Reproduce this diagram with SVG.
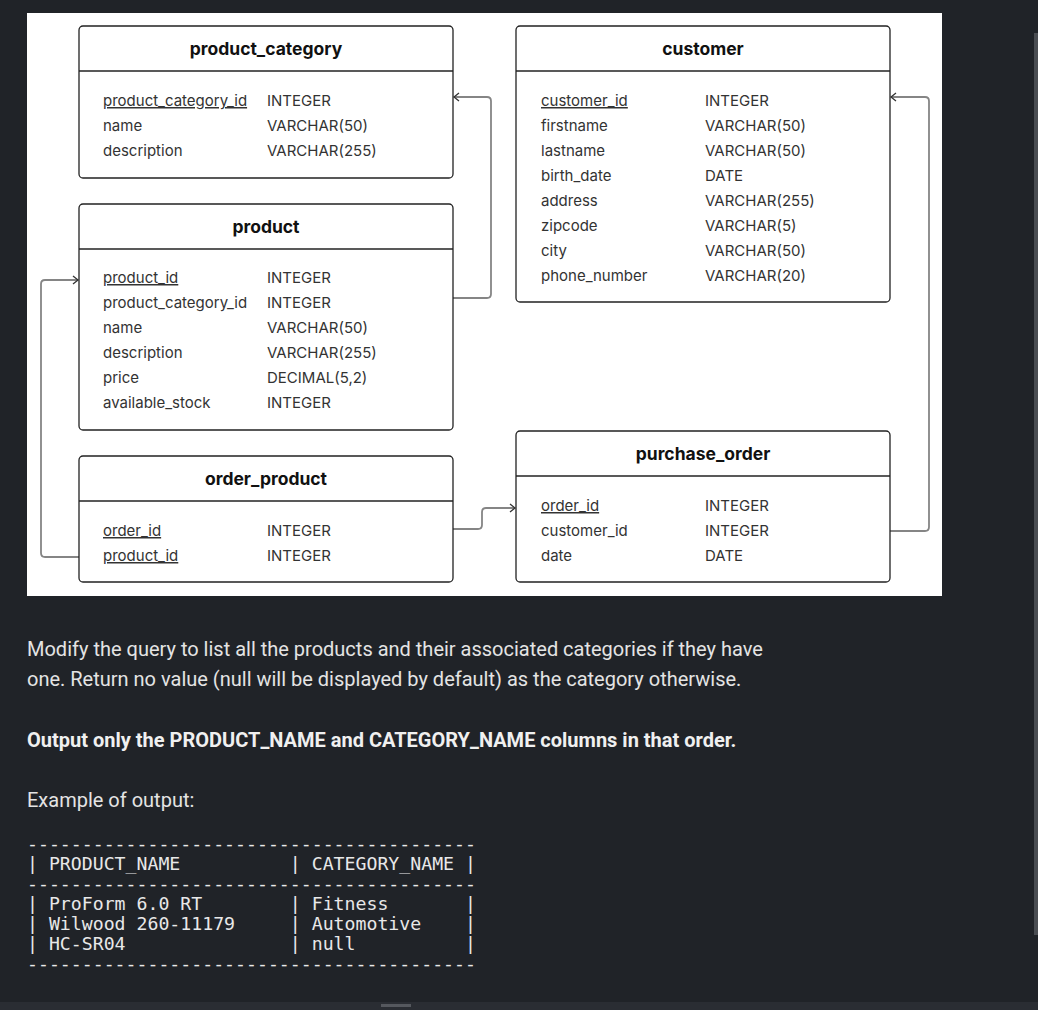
<svg xmlns="http://www.w3.org/2000/svg" width="1038" height="1010" viewBox="0 0 1038 1010">
<style>
.tbl{fill:#ffffff;stroke:#222222;stroke-width:1.3}
.sep{stroke:#222222;stroke-width:1.3}
.title{font-family:Inter,"Liberation Sans",sans-serif;font-weight:700;font-size:17.5px;fill:#111111;text-anchor:middle}
.row{font-family:Inter,"Liberation Sans",sans-serif;font-size:15px;fill:#333333}
.pk{text-decoration:underline}
.conn{fill:none;stroke:#858585;stroke-width:1.8}
.body{font-family:Roboto,"Liberation Sans",sans-serif;font-size:20px;fill:#e4e4e4}
.bold{font-weight:700;fill:#f0f0f0}
.mono{font-family:"DejaVu Sans Mono","Liberation Mono",monospace;font-size:18.2px;fill:#e8e8e8;white-space:pre}
</style>
<defs>
<marker id="arr" markerUnits="userSpaceOnUse" markerWidth="12" markerHeight="12" viewBox="-8 -6 10 12" refX="0" refY="0" orient="auto">
<path d="M-5,-4 L0,0 L-5,4" fill="none" stroke="#333333" stroke-width="1.3"/>
</marker>
</defs>
<rect x="0" y="0" width="1038" height="1010" fill="#202328"/>
<rect x="27" y="13" width="915" height="583" fill="#ffffff"/>
<rect x="1034" y="33" width="4" height="902" fill="#4a4d52"/>
<rect x="0" y="1002" width="1038" height="8" fill="#2a2d33"/>
<rect x="381" y="1004" width="30" height="3" fill="#55585e"/>

<g id="connectors">
<path class="conn" d="M453,298 H487 Q491,298 491,294 V101 Q491,97 487,97 H454" marker-end="url(#arr)"/>
<path class="conn" d="M890,531 H925 Q929,531 929,527 V101 Q929,97 925,97 H891" marker-end="url(#arr)"/>
<path class="conn" d="M79,557 H45 Q41,557 41,553 V284 Q41,280 45,280 H78" marker-end="url(#arr)"/>
<path class="conn" d="M453,529 H478 Q482,529 482,525 V512 Q482,508 486,508 H515" marker-end="url(#arr)"/>
</g>

<g id="product_category">
<rect class="tbl" x="79" y="26" width="374" height="152" rx="4"/>
<line class="sep" x1="79" y1="71" x2="453" y2="71"/>
<text class="title" x="266" y="55">product_category</text>
<text class="row pk" x="103" y="106">product_category_id</text><text class="row" x="267" y="106">INTEGER</text>
<text class="row" x="103" y="131">name</text><text class="row" x="267" y="131">VARCHAR(50)</text>
<text class="row" x="103" y="156">description</text><text class="row" x="267" y="156">VARCHAR(255)</text>
</g>

<g id="customer">
<rect class="tbl" x="516" y="26" width="374" height="276" rx="4"/>
<line class="sep" x1="516" y1="71" x2="890" y2="71"/>
<text class="title" x="703" y="55">customer</text>
<text class="row pk" x="541" y="106">customer_id</text><text class="row" x="705" y="106">INTEGER</text>
<text class="row" x="541" y="131">firstname</text><text class="row" x="705" y="131">VARCHAR(50)</text>
<text class="row" x="541" y="156">lastname</text><text class="row" x="705" y="156">VARCHAR(50)</text>
<text class="row" x="541" y="181">birth_date</text><text class="row" x="705" y="181">DATE</text>
<text class="row" x="541" y="206">address</text><text class="row" x="705" y="206">VARCHAR(255)</text>
<text class="row" x="541" y="231">zipcode</text><text class="row" x="705" y="231">VARCHAR(5)</text>
<text class="row" x="541" y="256">city</text><text class="row" x="705" y="256">VARCHAR(50)</text>
<text class="row" x="541" y="281">phone_number</text><text class="row" x="705" y="281">VARCHAR(20)</text>
</g>

<g id="product">
<rect class="tbl" x="79" y="204" width="374" height="226" rx="4"/>
<line class="sep" x1="79" y1="249" x2="453" y2="249"/>
<text class="title" x="266" y="233">product</text>
<text class="row pk" x="103" y="283">product_id</text><text class="row" x="267" y="283">INTEGER</text>
<text class="row" x="103" y="308">product_category_id</text><text class="row" x="267" y="308">INTEGER</text>
<text class="row" x="103" y="333">name</text><text class="row" x="267" y="333">VARCHAR(50)</text>
<text class="row" x="103" y="358">description</text><text class="row" x="267" y="358">VARCHAR(255)</text>
<text class="row" x="103" y="383">price</text><text class="row" x="267" y="383">DECIMAL(5,2)</text>
<text class="row" x="103" y="408">available_stock</text><text class="row" x="267" y="408">INTEGER</text>
</g>

<g id="order_product">
<rect class="tbl" x="79" y="456" width="374" height="126" rx="4"/>
<line class="sep" x1="79" y1="501" x2="453" y2="501"/>
<text class="title" x="266" y="485">order_product</text>
<text class="row pk" x="103" y="536">order_id</text><text class="row" x="267" y="536">INTEGER</text>
<text class="row pk" x="103" y="561">product_id</text><text class="row" x="267" y="561">INTEGER</text>
</g>

<g id="purchase_order">
<rect class="tbl" x="516" y="431" width="374" height="151" rx="4"/>
<line class="sep" x1="516" y1="476" x2="890" y2="476"/>
<text class="title" x="703" y="460">purchase_order</text>
<text class="row pk" x="541" y="511">order_id</text><text class="row" x="705" y="511">INTEGER</text>
<text class="row" x="541" y="536">customer_id</text><text class="row" x="705" y="536">INTEGER</text>
<text class="row" x="541" y="561">date</text><text class="row" x="705" y="561">DATE</text>
</g>

<g id="description">
<text class="body" x="27" y="656">Modify the query to list all the products and their associated categories if they have</text>
<text class="body" x="27" y="686">one. Return no value (null will be displayed by default) as the category otherwise.</text>
<text class="body bold" x="27" y="747">Output only the PRODUCT_NAME and CATEGORY_NAME columns in that order.</text>
<text class="body" x="27" y="807">Example of output:</text>
</g>

<g id="example_output">
<text class="mono" x="27" y="850" xml:space="preserve">-----------------------------------------</text>
<text class="mono" x="27" y="870" xml:space="preserve">| PRODUCT_NAME          | CATEGORY_NAME |</text>
<text class="mono" x="27" y="890" xml:space="preserve">-----------------------------------------</text>
<text class="mono" x="27" y="910" xml:space="preserve">| ProForm 6.0 RT        | Fitness       |</text>
<text class="mono" x="27" y="930" xml:space="preserve">| Wilwood 260-11179     | Automotive    |</text>
<text class="mono" x="27" y="950" xml:space="preserve">| HC-SR04               | null          |</text>
<text class="mono" x="27" y="970" xml:space="preserve">-----------------------------------------</text>
</g>
</svg>
